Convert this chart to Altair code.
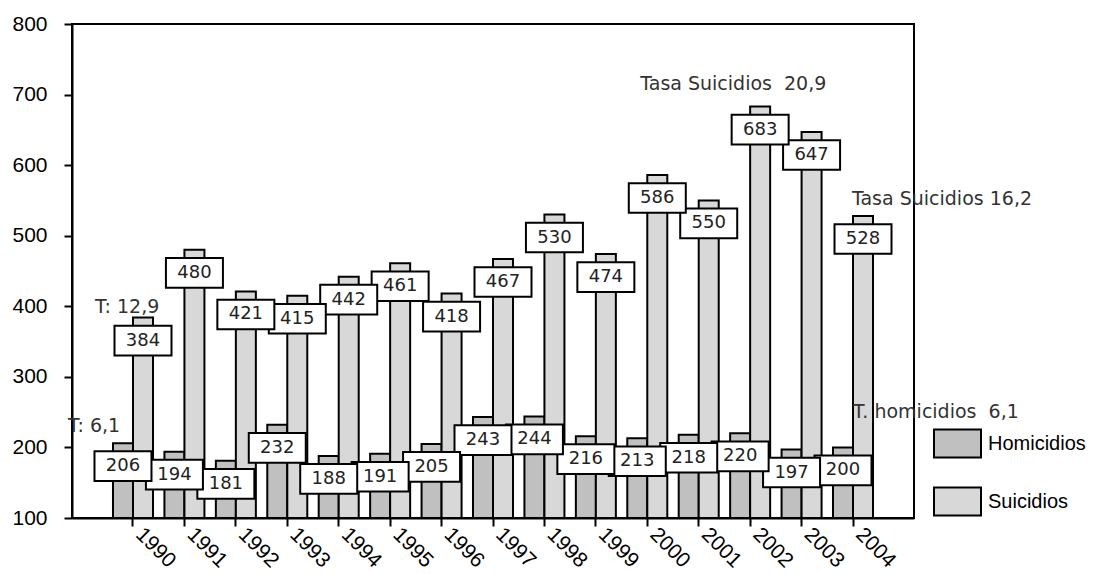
import altair as alt
import pandas as pd

years = [str(y) for y in range(1990, 2005)]
homicidios = [206, 194, 181, 232, 188, 191, 205, 243, 244, 216, 213, 218, 220, 197, 200]
suicidios = [384, 480, 421, 415, 442, 461, 418, 467, 530, 474, 586, 550, 683, 647, 528]
series = ["Homicidios", "Suicidios"]
colors = ["#c0c0c0", "#d8d8d8"]
y_ticks = [100, 200, 300, 400, 500, 600, 700, 800]

ann_text = ["T: 12,9", "T: 6,1", "Tasa Suicidios\u00a0 20,9", "Tasa Suicidios 16,2", "T. homicidios\u00a0 6,1"]
ann_year = ["1990", "1990", "2000", "2004", "2004"]
ann_value = [399, 231, 715, 552, 250]
ann_dx = [-38, -65, -7, -1, 0]

rows = []
for i, yr in enumerate(years):
    rows.append({"year": yr, "serie": "Homicidios", "value": homicidios[i], "order": i})
    rows.append({"year": yr, "serie": "Suicidios", "value": suicidios[i], "order": i})
df = pd.DataFrame(rows)

W, H = 842, 494
BOX = "M-1,-0.52H1V0.52H-1Z"
LEG = "M-1,-0.6H1V0.6H-1Z"
NUMFONT = "DejaVu Sans"
AXFONT = "Liberation Sans"

x = alt.X(
    "year:N",
    sort=years,
    scale=alt.Scale(domain=years, paddingInner=0.222, paddingOuter=0.797),
    axis=alt.Axis(
        title=None, labelAngle=45, labelAlign="left", labelBaseline="middle",
        labelFont=AXFONT, labelFontSize=21, labelColor="black", labelPadding=5, labelOffset=6,
        tickSize=8, tickWidth=2, tickColor="black", domainWidth=2, domainColor="black",
    ),
)
xo = alt.XOffset("serie:N", sort=series, scale=alt.Scale(domain=series, paddingInner=0, paddingOuter=0))
y = alt.Y(
    "value:Q",
    scale=alt.Scale(domain=[100, 800], nice=False, zero=False),
    axis=alt.Axis(
        title=None, values=y_ticks, grid=False, labelFont=AXFONT, labelFontSize=21,
        labelColor="black", labelPadding=17, tickSize=8, tickWidth=2, tickColor="black",
        domainWidth=2, domainColor="black",
    ),
)

base = alt.Chart(df)

bars = base.mark_bar(stroke="black", strokeWidth=2, opacity=1).encode(
    x=x, xOffset=xo, y=y, y2=alt.datum(100),
    fill=alt.Fill(
        "serie:N",
        scale=alt.Scale(domain=series, range=colors),
        legend=alt.Legend(
            title=None, orient="none", legendX=861, legendY=395, padding=0,
            symbolType=LEG, symbolSize=2209, symbolStrokeWidth=2, symbolStrokeColor="black",
            symbolOpacity=1, labelFont=AXFONT, labelFontSize=20, labelColor="black",
            labelOffset=6, rowPadding=15,
        ),
    ),
)

boxes = base.mark_point(
    shape=BOX, size=57 * 57, filled=True, fill="white", stroke="black",
    strokeWidth=2, opacity=1, fillOpacity=1, yOffset=23,
).encode(x=x, xOffset=xo, y=y, order=alt.Order("order:Q", sort="descending"))

labels = base.mark_text(
    font=NUMFONT, fontSize=18, color="#222222", baseline="middle", align="center", yOffset=23,
).encode(x=x, xOffset=xo, y=y, text="value:Q")

ann_layers = []
for t, yr, v, dx in zip(ann_text, ann_year, ann_value, ann_dx):
    adf = pd.DataFrame({"year": [yr], "value": [v], "label": [t]})
    ann_layers.append(
        alt.Chart(adf).mark_text(
            font=NUMFONT, fontSize=19, color="#333333", align="left", baseline="middle", dx=dx,
        ).encode(x=x, y=y, text="label:N")
    )

chart = alt.layer(bars, boxes, labels, *ann_layers).properties(
    width=W, height=H,
    padding={"left": 64, "top": 16, "right": 175, "bottom": 60},
    autosize=alt.AutoSizeParams(type="none"),
).configure_view(stroke="black", strokeWidth=2)

chart.save("out.html", embed_options={"renderer": "svg", "actions": False})
